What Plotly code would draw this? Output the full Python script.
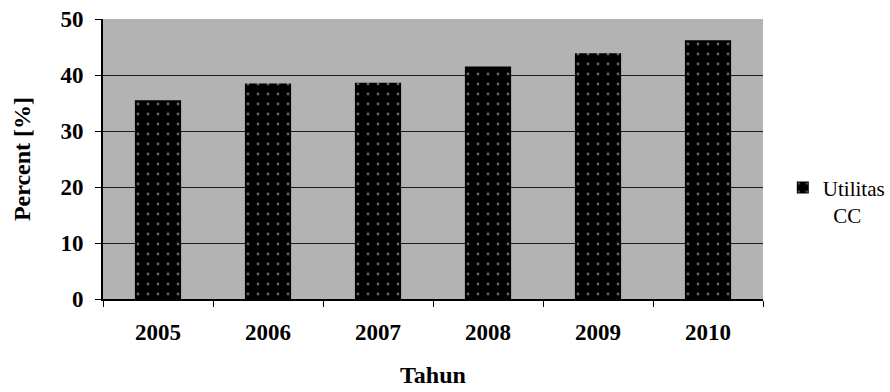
import plotly.graph_objects as go

years = ["2005", "2006", "2007", "2008", "2009", "2010"]
utilitas_cc = [35.5, 38.5, 38.6, 41.5, 43.9, 46.2]
y_ticks = [0, 10, 20, 30, 40, 50]
y_tick_text = ["<b>0</b>", "<b>10</b>", "<b>20</b>", "<b>30</b>", "<b>40</b>", "<b>50</b>"]

FONT = "Liberation Serif"

fig = go.Figure()
fig.add_trace(go.Bar(
    x=years, y=utilitas_cc, name="Utilitas<br>&nbsp;&nbsp;CC",
    marker=dict(color="black", line=dict(width=0),
                pattern=dict(shape=".", fgcolor="#cccccc", bgcolor="black",
                             size=10, solidity=0.06)),
    width=0.42,
))

fig.update_layout(
    width=890, height=392,
    margin=dict(l=103, r=127, t=19, b=93, autoexpand=False),
    paper_bgcolor="white",
    plot_bgcolor="#b3b3b3",
    font=dict(family=FONT, color="black", size=22),
    showlegend=True,
    legend=dict(x=1.03, y=0.47, xanchor="left", yanchor="top", valign="top",
                font=dict(size=21, family=FONT, color="black"), itemwidth=30,
                bgcolor="rgba(0,0,0,0)", tracegroupgap=0, borderwidth=0),
    bargap=0.58,
)
fig.update_xaxes(
    type="category", showline=True, linecolor="black", linewidth=1.5,
    ticks="outside", ticklen=6, tickcolor="black", tickson="boundaries",
    tickfont=dict(size=23, family=FONT, color="black", weight="bold"),
    ticklabelstandoff=12, automargin=False,
    title=dict(text="<b>Tahun</b>", font=dict(size=24, family=FONT), standoff=22),
    showgrid=False,
)
fig.update_yaxes(
    range=[0, 50], tickvals=y_ticks, ticktext=y_tick_text,
    showline=True, linecolor="black", linewidth=2,
    ticks="outside", ticklen=6, tickcolor="black",
    tickfont=dict(size=23, family=FONT, color="black"),
    ticklabelstandoff=7, automargin=False,
    showgrid=True, gridcolor="#1a1a1a", gridwidth=1,
    title=dict(text="<b>Percent [%]</b>", font=dict(size=24, family=FONT), standoff=23),
    zeroline=False,
)

fig.write_html("out.html")
